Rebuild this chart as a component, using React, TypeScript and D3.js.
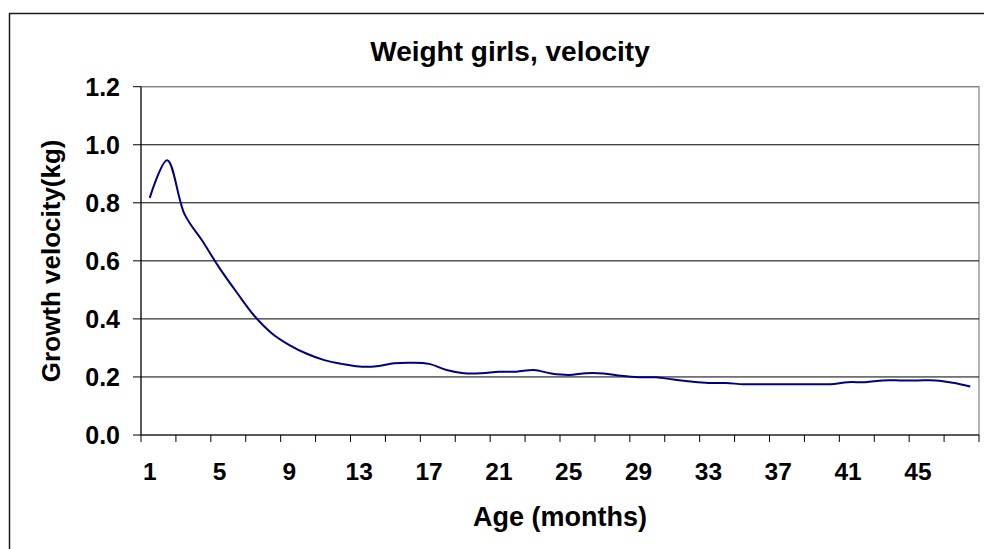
import React from "react";
import * as d3 from "d3";

const months: number[] = Array.from({ length: 48 }, (_, i) => i + 1);
const velocity: number[] = [
  0.817, 0.947, 0.76, 0.67, 0.575, 0.49, 0.41, 0.35, 0.31, 0.28,
  0.258, 0.245, 0.236, 0.237, 0.247, 0.249, 0.245, 0.224, 0.213, 0.213,
  0.218, 0.218, 0.224, 0.212, 0.207, 0.213, 0.212, 0.204, 0.199, 0.199,
  0.191, 0.184, 0.179, 0.179, 0.175, 0.175, 0.175, 0.175, 0.175, 0.175,
  0.182, 0.182, 0.188, 0.188, 0.188, 0.188, 0.18, 0.167,
];
const yTicks: number[] = [0, 0.2, 0.4, 0.6, 0.8, 1.0, 1.2];
const xTickLabels: number[] = [1, 5, 9, 13, 17, 21, 25, 29, 33, 37, 41, 45];
const xTickMarks: number[] = Array.from({ length: 25 }, (_, i) => 0.5 + i * 2);

const title = "Weight girls, velocity";
const xTitle = "Age (months)";
const yTitle = "Growth velocity(kg)";

const W = 984;
const H = 549;
const plot = { left: 141, right: 979, top: 86.7, bottom: 435 };
const font = "Arial, 'Liberation Sans', sans-serif";

export default function App() {
  const x = d3.scaleLinear().domain([0.5, 48.5]).range([plot.left, plot.right]);
  const y = d3.scaleLinear().domain([0, 1.2]).range([plot.bottom, plot.top]);
  const line = d3
    .line<number>()
    .x((_, i) => x(months[i]))
    .y((d) => y(d))
    .curve(d3.curveCatmullRom.alpha(0.5));
  const path = line(velocity) || "";

  return (
    <div style={{ position: "fixed", left: 0, top: 0, width: W, height: H, background: "#fff" }}>
      <svg width={W} height={H} style={{ display: "block" }} fontFamily={font}>
        <rect x={0} y={0} width={W} height={H} fill="#fff" />
        {/* chart frame */}
        <rect x={9.5} y={13.5} width={W + 40} height={H + 40} fill="none" stroke="#1a1a1a" strokeWidth={1.5} />
        {/* plot border */}
        <rect
          x={plot.left}
          y={plot.top}
          width={plot.right - plot.left}
          height={plot.bottom - plot.top}
          fill="#fff"
          stroke="#808080"
          strokeWidth={1.2}
        />
        {/* gridlines */}
        {yTicks.map((t) =>
          t === 0 ? null : (
            <line
              key={"g" + t}
              x1={plot.left}
              x2={plot.right}
              y1={y(t)}
              y2={y(t)}
              stroke={t === 1.2 ? "#808080" : "#000"}
              strokeWidth={1}
            />
          )
        )}
        {/* axes */}
        <line x1={plot.left} x2={plot.left} y1={plot.top} y2={plot.bottom} stroke="#000" strokeWidth={1} />
        <line x1={plot.left} x2={plot.right} y1={plot.bottom} y2={plot.bottom} stroke="#000" strokeWidth={1} />
        {/* y ticks */}
        {yTicks.map((t) => (
          <g key={"y" + t}>
            <line x1={plot.left - 8} x2={plot.left} y1={y(t)} y2={y(t)} stroke="#000" strokeWidth={1} />
            <text
              x={120}
              y={y(t)}
              dy="0.36em"
              textAnchor="end"
              fontSize={25}
              fontWeight="bold"
              fill="#000"
            >
              {d3.format(".1f")(t)}
            </text>
          </g>
        ))}
        {/* x ticks */}
        {xTickMarks.map((t) => (
          <line key={"xt" + t} x1={x(t)} x2={x(t)} y1={plot.bottom} y2={plot.bottom + 7} stroke="#000" strokeWidth={1} />
        ))}
        {xTickLabels.map((t) => (
          <text
            key={"xl" + t}
            x={x(t)}
            y={480}
            textAnchor="middle"
            fontSize={24.5}
            fontWeight="bold"
            fill="#000"
          >
            {t}
          </text>
        ))}
        {/* series */}
        <path d={path} fill="none" stroke="#000080" strokeWidth={2} strokeLinejoin="round" />
        {/* titles */}
        <text x={510} y={61} textAnchor="middle" fontSize={28} fontWeight="bold" fill="#000">
          {title}
        </text>
        <text x={560} y={526} textAnchor="middle" fontSize={27} fontWeight="bold" fill="#000">
          {xTitle}
        </text>
        <text
          transform={`translate(60, ${(plot.top + plot.bottom) / 2}) rotate(-90)`}
          textAnchor="middle"
          fontSize={26}
          fontWeight="bold"
          fill="#000"
        >
          {yTitle}
        </text>
      </svg>
    </div>
  );
}
